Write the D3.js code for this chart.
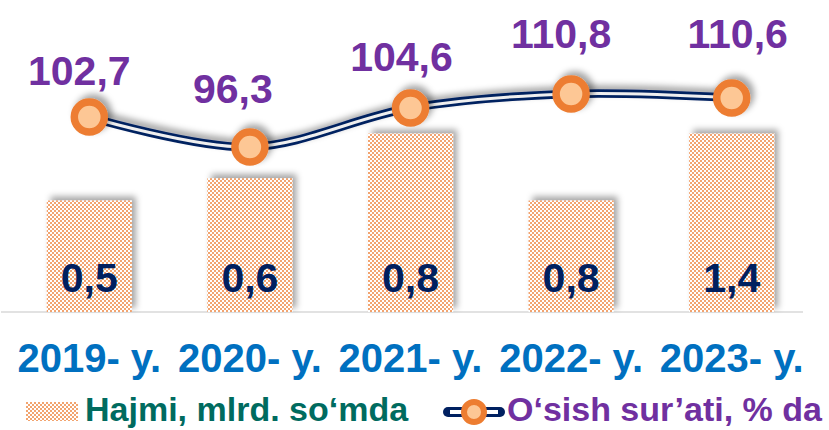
<!DOCTYPE html>
<html><head><meta charset="utf-8">
<script src="https://cdn.jsdelivr.net/npm/d3@7"></script>
<style>html,body{margin:0;padding:0;background:#fff;} svg{display:block}</style>
</head><body>
<svg id="chart" width="829" height="430"></svg>
<script>
// ---- data ----
const years = ["2019- y.", "2020- y.", "2021- y.", "2022- y.", "2023- y."];
const volumeLabels = ["0,5", "0,6", "0,8", "0,8", "1,4"];
// bar heights as they are drawn in the picture (mlrd. so'm scale)
const volumeBarValues = [0.5, 0.6, 0.8, 0.5, 0.8];
const growthLabels = ["102,7", "96,3", "104,6", "110,8", "110,6"];
// marker heights as they are drawn in the picture (% scale)
const growthPlotted = [102.7, 96.3, 104.6, 107.6, 106.75];
const legendNames = ["Hajmi, mlrd. so‘mda", "O‘sish sur’ati, % da"];

// ---- layout ----
const labelNudge = [[-10, -32], [-17, -44], [-9, -37], [-10, -46], [6, -50]];
const FONT = "'Liberation Sans', Arial, sans-serif";
const svg = d3.select("#chart");
const defs = svg.append("defs");

const pat = defs.append("pattern").attr("id", "chk").attr("patternUnits", "userSpaceOnUse")
  .attr("width", 4).attr("height", 4);
pat.append("rect").attr("width", 4).attr("height", 4).attr("fill", "#ffffff");
pat.append("rect").attr("width", 2).attr("height", 2).attr("fill", "#F2A46F");
pat.append("rect").attr("x", 2).attr("y", 2).attr("width", 2).attr("height", 2).attr("fill", "#F2A46F");

const f = defs.append("filter").attr("id", "sh").attr("x", "-30%").attr("y", "-60%")
  .attr("width", "160%").attr("height", "220%");
f.append("feDropShadow").attr("dx", 4).attr("dy", -4).attr("stdDeviation", 3)
  .attr("flood-color", "#000").attr("flood-opacity", 0.35);

const x = d3.scaleBand().domain(years).range([9, 812]).paddingInner(0.47).paddingOuter(0.235);
const yBar = d3.scaleLinear().domain([0, 1]).range([312, 89]);
const yLine = d3.scaleLinear().domain([90, 115]).range([176.5, 59.3]);

// baseline axis
const axis = svg.append("g").attr("transform", "translate(0,312)")
  .call(d3.axisBottom(x).tickSize(0).tickFormat(""));
axis.select(".domain").attr("stroke", "#D9D9D9").attr("stroke-width", 1.5)
  .attr("d", "M1,0H803");

// bars
svg.append("g").attr("filter", "url(#sh)")
  .selectAll("rect").data(volumeBarValues).join("rect")
  .attr("x", (d, i) => x(years[i]))
  .attr("y", d => yBar(d))
  .attr("width", x.bandwidth())
  .attr("height", d => yBar(0) - yBar(d))
  .attr("fill", "url(#chk)");

// bar labels
svg.append("g").selectAll("text").data(volumeLabels).join("text")
  .attr("x", (d, i) => x(years[i]) + x.bandwidth() / 2)
  .attr("y", yBar(0) - 20)
  .attr("text-anchor", "middle")
  .attr("font-family", FONT).attr("font-weight", "bold").attr("font-size", 41)
  .attr("fill", "#002060").text(d => d);

// line
const pts = growthPlotted.map((v, i) => [x(years[i]) + x.bandwidth() / 2, yLine(v)]);
const lineGen = d3.line().curve(d3.curveCardinal.tension(0));
const lg = svg.append("g");
lg.append("path").attr("d", lineGen(pts)).attr("fill", "none")
  .attr("stroke", "#002060").attr("stroke-width", 8.5).attr("filter", "url(#sh)");
lg.append("path").attr("d", lineGen(pts)).attr("fill", "none")
  .attr("stroke", "#EFEFEF").attr("stroke-width", 3);

// markers
svg.append("g").attr("filter", "url(#sh)")
  .selectAll("circle").data(pts).join("circle")
  .attr("cx", d => d[0]).attr("cy", d => d[1]).attr("r", 15)
  .attr("fill", "#FDC795").attr("stroke", "#ED7D31").attr("stroke-width", 7.5);

// line labels
svg.append("g").selectAll("text").data(growthLabels).join("text")
  .attr("x", (d, i) => pts[i][0] + labelNudge[i][0])
  .attr("y", (d, i) => pts[i][1] + labelNudge[i][1])
  .attr("text-anchor", "middle")
  .attr("font-family", FONT).attr("font-weight", "bold").attr("font-size", 41)
  .attr("fill", "#7030A0").text(d => d);

// category labels
svg.append("g").selectAll("text").data(years).join("text")
  .attr("x", d => x(d) + x.bandwidth() / 2)
  .attr("y", 372)
  .attr("text-anchor", "middle")
  .attr("font-family", FONT).attr("font-weight", "bold").attr("font-size", 40)
  .attr("fill", "#0070C0").text(d => d);

// legend
const leg = svg.append("g");
leg.append("rect").attr("x", 26).attr("y", 402).attr("width", 52).attr("height", 19)
  .attr("fill", "url(#chk)");
leg.append("text").attr("x", 85).attr("y", 421)
  .attr("font-family", FONT).attr("font-weight", "bold").attr("font-size", 34)
  .attr("fill", "#006B5F").text(legendNames[0]);
leg.append("line").attr("x1", 448).attr("x2", 500).attr("y1", 412).attr("y2", 412)
  .attr("stroke", "#002060").attr("stroke-width", 10).attr("stroke-linecap", "round");
leg.append("line").attr("x1", 450).attr("x2", 498).attr("y1", 412).attr("y2", 412)
  .attr("stroke", "#ffffff").attr("stroke-width", 4);
leg.append("circle").attr("cx", 474).attr("cy", 412).attr("r", 10)
  .attr("fill", "#FDC795").attr("stroke", "#ED7D31").attr("stroke-width", 6);
leg.append("text").attr("x", 507).attr("y", 421)
  .attr("font-family", FONT).attr("font-weight", "bold").attr("font-size", 34)
  .attr("fill", "#7030A0").text(legendNames[1]);
</script>
</body></html>
